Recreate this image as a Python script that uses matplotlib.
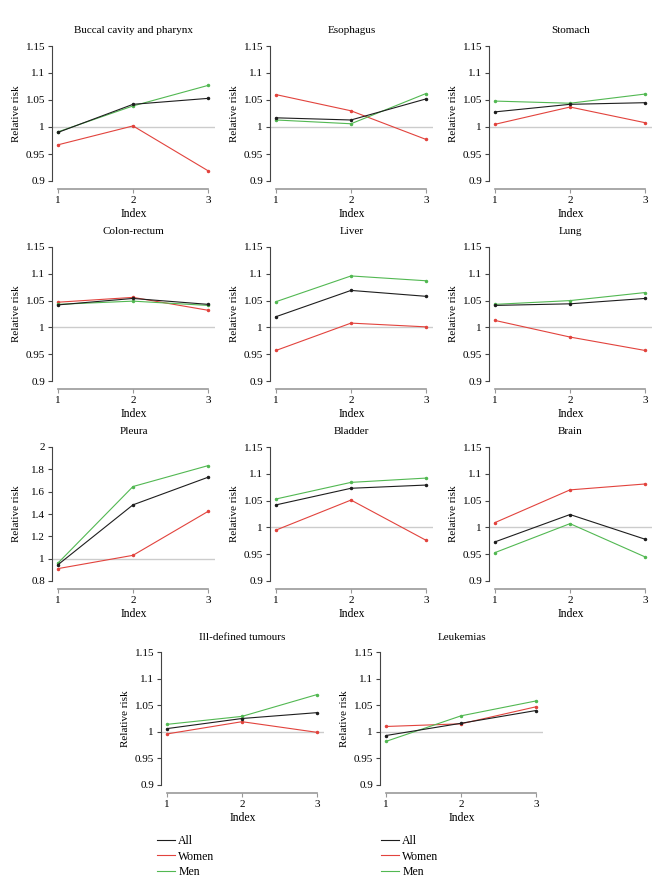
import matplotlib
matplotlib.use('Agg')
import matplotlib.pyplot as plt

plt.rcParams['font.family'] = ['Liberation Serif', 'DejaVu Serif']
plt.rcParams['font.size'] = 8

# relative risk by deprivation index (1, 2, 3)
index = [1, 2, 3]
sites = ['Buccal cavity and pharynx', 'Esophagus', 'Stomach',
         'Colon-rectum', 'Liver', 'Lung',
         'Pleura', 'Bladder', 'Brain',
         'Ill-defined tumours', 'Leukemias']

rr_all = [[0.990, 1.042, 1.053],
          [1.017, 1.013, 1.052],
          [1.028, 1.042, 1.045],
          [1.042, 1.054, 1.043],
          [1.020, 1.069, 1.058],
          [1.041, 1.044, 1.054],
          [0.946, 1.482, 1.729],
          [1.042, 1.073, 1.079],
          [0.973, 1.024, 0.978],
          [1.006, 1.025, 1.036],
          [0.993, 1.016, 1.040]]

rr_women = [[0.967, 1.002, 0.919],
            [1.060, 1.030, 0.977],
            [1.005, 1.037, 1.008],
            [1.047, 1.056, 1.032],
            [0.957, 1.008, 1.001],
            [1.013, 0.982, 0.957],
            [0.911, 1.030, 1.423],
            [0.995, 1.051, 0.976],
            [1.009, 1.070, 1.081],
            [0.996, 1.019, 0.999],
            [1.010, 1.015, 1.047]]

rr_men = [[0.991, 1.039, 1.077],
          [1.013, 1.006, 1.062],
          [1.048, 1.044, 1.061],
          [1.043, 1.049, 1.041],
          [1.048, 1.096, 1.087],
          [1.043, 1.050, 1.065],
          [0.961, 1.646, 1.833],
          [1.053, 1.084, 1.092],
          [0.953, 1.007, 0.945],
          [1.014, 1.029, 1.070],
          [0.982, 1.030, 1.058]]

yticks_small = [0.9, 0.95, 1, 1.05, 1.1, 1.15]
yticks_pleura = [0.8, 1, 1.2, 1.4, 1.6, 1.8, 2]

c_all, c_women, c_men = '#1e1e1e', '#e2433d', '#52b852'

W, H = 672, 884
fig = plt.figure(figsize=(W / 100, H / 100), dpi=100)

row_top = [46, 247, 447, 652]
row_bot = [181, 381, 581, 785]
col_left = [[52, 270, 489], [52, 270, 489], [52, 270, 489], [161, 380]]
aw = 163

k = 0
axes = []
for r in range(4):
    for left in col_left[r]:
        top, bot = row_top[r], row_bot[r]
        ax = fig.add_axes([left / W, 1 - bot / H, aw / W, (bot - top) / H])
        ah = bot - top
        ticks = yticks_pleura if sites[k] == 'Pleura' else yticks_small
        ax.axhline(1, color='#cccccc', lw=1, zorder=1)
        ax.plot(index, rr_all[k], color=c_all, lw=0.8, marker='o', ms=1.5, label='All', zorder=4)
        ax.plot(index, rr_women[k], color=c_women, lw=0.8, marker='o', ms=1.5, label='Women', zorder=3)
        ax.plot(index, rr_men[k], color=c_men, lw=0.8, marker='o', ms=1.5, label='Men', zorder=3)
        ax.set_xlim(1 - 6 / 75, 3 + 7 / 75)
        ax.set_ylim(ticks[0], ticks[-1])
        ax.set_xticks(index)
        ax.set_yticks(ticks)
        ax.set_yticklabels(['%g' % t for t in ticks])
        for s in ['top', 'right']:
            ax.spines[s].set_visible(False)
        ax.spines['left'].set_color('#444444')
        ax.spines['left'].set_linewidth(0.8)
        ax.spines['bottom'].set_color('#999999')
        ax.spines['bottom'].set_linewidth(1.2)
        ax.spines['bottom'].set_position(('outward', 6))
        ax.spines['bottom'].set_bounds(1, 3)
        ax.tick_params(axis='y', length=3, width=0.8, color='#444444', pad=2, labelsize=8)
        ax.tick_params(axis='x', length=3, width=0.8, color='#999999', pad=2, labelsize=8)
        ax.set_title(sites[k], fontsize=8, pad=9)
        ax.set_xlabel('Index', fontsize=8.5)
        ax.set_ylabel('Relative risk', fontsize=8)
        ax.xaxis.set_label_coords(0.5, -27 / ah)
        ax.yaxis.set_label_coords(-31 / aw, 0.5)
        axes.append(ax)
        k += 1

# legends under the bottom row
for ax, x0 in zip(axes[-2:], [157, 381]):
    ax.legend(loc='upper left', bbox_to_anchor=(x0 / W, 1 - 835 / H),
              bbox_transform=fig.transFigure, frameon=False, fontsize=8.5,
              handlelength=1.5, handletextpad=0.3, labelspacing=0.3,
              borderpad=0, borderaxespad=0)
    for line in ax.get_legend().get_lines():
        line.set_marker('')

fig.savefig('out.png', dpi=100)
